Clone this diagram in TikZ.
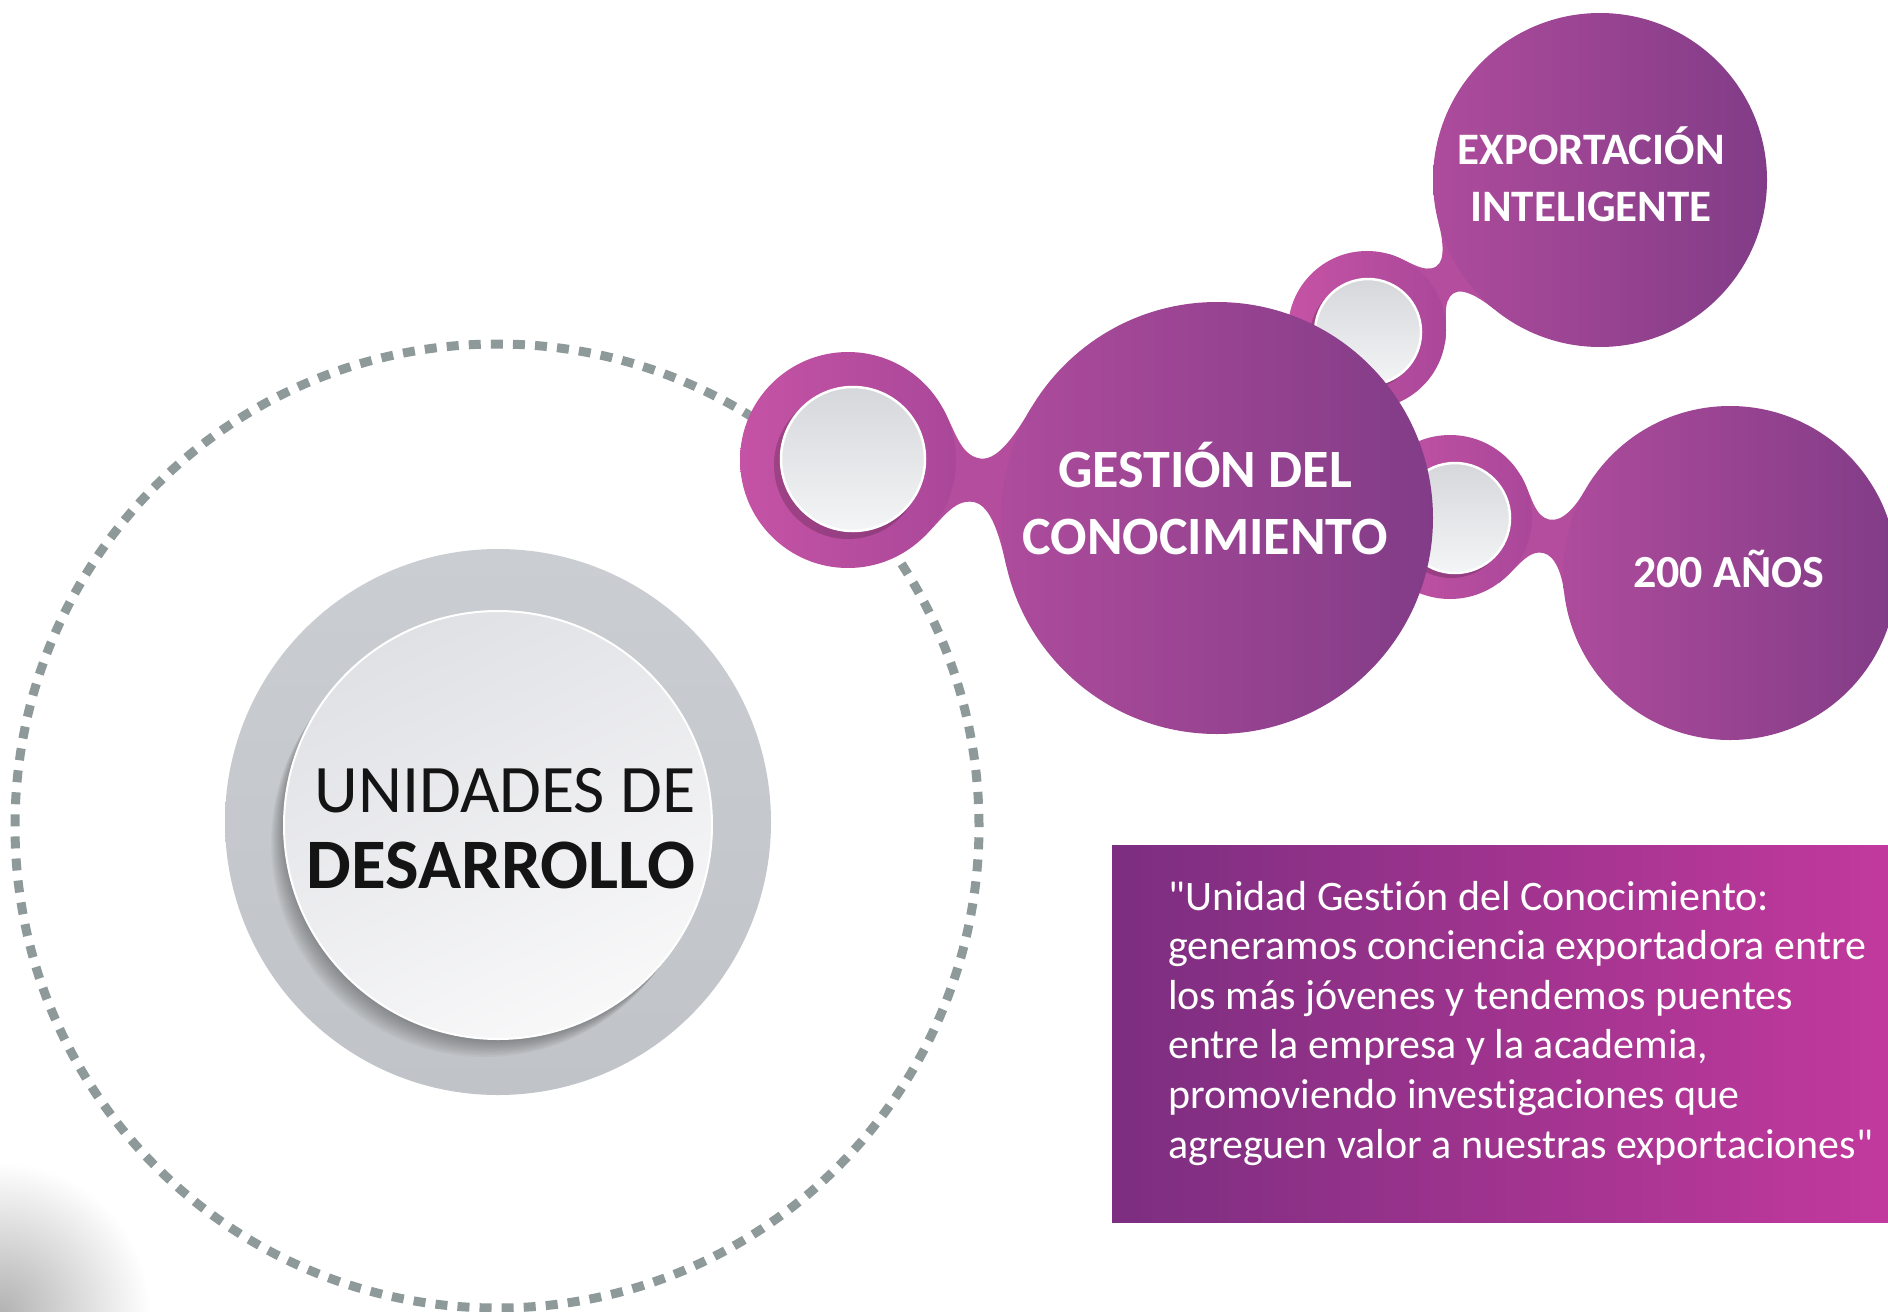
\documentclass[tikz,border=0pt]{standalone}
\usepackage{fontspec}
\setmainfont{Carlito}[Ligatures={TeXOff,NoCommon}]
\usetikzlibrary{calc}
\definecolor{purpL}{HTML}{AE4B9C}
\definecolor{purpR}{HTML}{823C87}
\definecolor{ringL}{HTML}{C553A5}
\definecolor{ringR}{HTML}{AA4799}
\definecolor{bridgecol}{HTML}{B54D9F}
\definecolor{dashgray}{HTML}{8E9999}
\definecolor{diskT}{HTML}{CACDD1}
\definecolor{diskB}{HTML}{C0C3C7}
\definecolor{plateT}{HTML}{E0E1E5}
\definecolor{plateB}{HTML}{F8F8F9}
\definecolor{boxL}{HTML}{7C2E80}
\definecolor{boxR}{HTML}{C2399D}
\definecolor{holeT}{HTML}{D5D7DB}
\definecolor{holeB}{HTML}{F4F5F6}

% bridge between circle 1 (#1,#2,r=#3) and circle 2 (#4,#5,r=#6); neck half width #7; fillet angles #8,#9
\newcommand\blobbridge[9]{%
  \pgfmathsetmacro\brAng{atan2((#5)-(#2),(#4)-(#1))}%
  \pgfmathsetmacro\brDist{veclen((#4)-(#1),(#5)-(#2))}%
  \pgfmathsetmacro\brPx{(#3)*cos(#8)}%
  \pgfmathsetmacro\brPy{(#3)*sin(#8)}%
  \pgfmathsetmacro\brQx{\brDist-(#6)*cos(#9)}%
  \pgfmathsetmacro\brQy{(#6)*sin(#9)}%
  \pgfmathsetmacro\brM{(#3)+0.45*(\brDist-(#3)-(#6))}%
  \pgfmathsetmacro\brKa{0.6*(\brM-\brPx)}%
  \pgfmathsetmacro\brKb{0.6*(\brQx-\brM)}%
  \pgfmathsetmacro\brCax{\brPx+\brKa*sin(#8)}%
  \pgfmathsetmacro\brCay{\brPy-\brKa*cos(#8)}%
  \pgfmathsetmacro\brCbx{\brQx-\brKb*sin(#9)}%
  \pgfmathsetmacro\brCby{\brQy-\brKb*cos(#9)}%
  \pgfmathsetmacro\brLa{\brM-0.45*(\brM-\brPx)}%
  \pgfmathsetmacro\brLb{\brM+0.45*(\brQx-\brM)}%
  \pgfmathsetmacro\brPyN{-\brPy}%
  \pgfmathsetmacro\brQyN{-\brQy}%
  \pgfmathsetmacro\brCayN{-\brCay}%
  \pgfmathsetmacro\brCbyN{-\brCby}%
  \pgfmathsetmacro\brH{#7}%
  \pgfmathsetmacro\brHN{-(#7)}%
  \begin{scope}[shift={(#1,#2)},rotate=\brAng]
    \fill[bridgecol] (\brPx,\brPy) .. controls (\brCax,\brCay) and (\brLa,\brH) .. (\brM,\brH)
      .. controls (\brLb,\brH) and (\brCbx,\brCby) .. (\brQx,\brQy)
      -- (\brQx,\brQyN) .. controls (\brCbx,\brCbyN) and (\brLb,\brHN) .. (\brM,\brHN)
      .. controls (\brLa,\brHN) and (\brCax,\brCayN) .. (\brPx,\brPyN) -- cycle;
  \end{scope}}

\begin{document}
\begin{tikzpicture}[x=1pt,y=1pt,
  txtw/.style={text=white, inner sep=0, anchor=base},
  txtk/.style={text=black!92, inner sep=0, anchor=base},
  purpnode/.style={circle, inner sep=0, left color=purpL, right color=purpR},
  ringnode/.style={circle, inner sep=0, left color=ringL, right color=ringR},
  holenode/.style={circle, inner sep=0, top color=holeT, bottom color=holeB, draw=white, line width=2.5pt},
  holeshadow/.style={black, opacity=0.18},
  boldc/.style={font=\fontsize{54}{60}\selectfont\bfseries},
  bolde/.style={font=\fontsize{45}{50}\selectfont\bfseries},
  quote/.style={txtw, anchor=base west, font=\fontsize{42}{49}\selectfont}]
\useasboundingbox (0,0) rectangle (1888,-1312);
\fill[white] (0,0) rectangle (1888,-1312);
% faint gray corner
\shade[inner color=black!30, outer color=white] (0,-1312) circle (150);

% dashed orbit
\draw[dashgray, line width=9pt, dash pattern=on 12pt off 10.1pt] (497,-826) circle (482);

% grey disk with plate
\node[circle, inner sep=0, minimum size=546pt, top color=diskT, bottom color=diskB] (disk) at (498,-822) {};
\foreach \i in {1,...,10}
  \fill[black, opacity=0.03] ({498-1.3*\i},{-826-1.7*\i}) circle (214);
\node[circle, inner sep=0, minimum size=428pt, top color=plateT, bottom color=plateB, shading angle=25, draw=white, line width=2pt] (plate) at (498,-825) {};
\node[txtk, font=\fontsize{68}{74}\selectfont] (unid) at (505,-812) {UNIDADES DE};
\node[txtk, font=\fontsize{71}{74}\selectfont\bfseries] (desa) at (501,-888) {DESARROLLO};

% upper and lower link rings with their circles
\blobbridge{1367}{-330}{79}{1600}{-180}{167}{16}{42}{18}
\blobbridge{1450}{-517}{82}{1730}{-573}{167}{17}{42}{18}
\node[ringnode, minimum size=158pt] (uring) at (1367,-330) {};
\fill[holeshadow] (1364,-336) circle (54);
\node[holenode, minimum size=106pt] (uhole) at (1368,-332) {};
\node[ringnode, minimum size=164pt] (dring) at (1450,-517) {};
\fill[holeshadow] (1451,-522) circle (56);
\node[holenode, minimum size=110pt] (dhole) at (1455,-518) {};
\node[purpnode, minimum size=334pt] (expo) at (1600,-180) {};
\node[purpnode, minimum size=334pt] (anos) at (1730,-573) {};

% left ring and central circle
\blobbridge{848}{-460}{108}{1217}{-518}{216}{22}{38}{22}
\node[ringnode, minimum size=216pt] (lring) at (848,-460) {};
\fill[holeshadow] (848,-465) circle (74);
\node[holenode, minimum size=144pt] (lhole) at (853,-459) {};
\node[purpnode, minimum size=432pt] (gest) at (1217,-518) {};

% labels
\node[txtw, boldc] (g1) at (1205,-487) {GESTIÓN DEL};
\node[txtw, boldc] (g2) at (1205,-554) {CONOCIMIENTO};
\node[txtw, bolde] (e1) at (1591,-164) {EXPORTACIÓN};
\node[txtw, bolde] (e2) at (1591,-221) {INTELIGENTE};
\node[txtw, font=\fontsize{46}{50}\selectfont\bfseries] (a1) at (1729,-587) {200 AÑOS};

% quote box
\node[inner sep=0, minimum width=776pt, minimum height=377pt, left color=boxL, right color=boxR, anchor=north west] (qbox) at (1112,-845) {};
\node[quote] (q1) at (1168,-910) {"Unidad Gestión del Conocimiento:};
\node[quote] (q2) at (1168,-959.6) {generamos conciencia exportadora entre};
\node[quote] (q3) at (1168,-1009.2) {los más jóvenes y tendemos puentes};
\node[quote] (q4) at (1168,-1058.8) {entre la empresa y la academia,};
\node[quote] (q5) at (1168,-1108.4) {promoviendo investigaciones que};
\node[quote] (q6) at (1168,-1158) {agreguen valor a nuestras exportaciones"};
\end{tikzpicture}
\end{document}
